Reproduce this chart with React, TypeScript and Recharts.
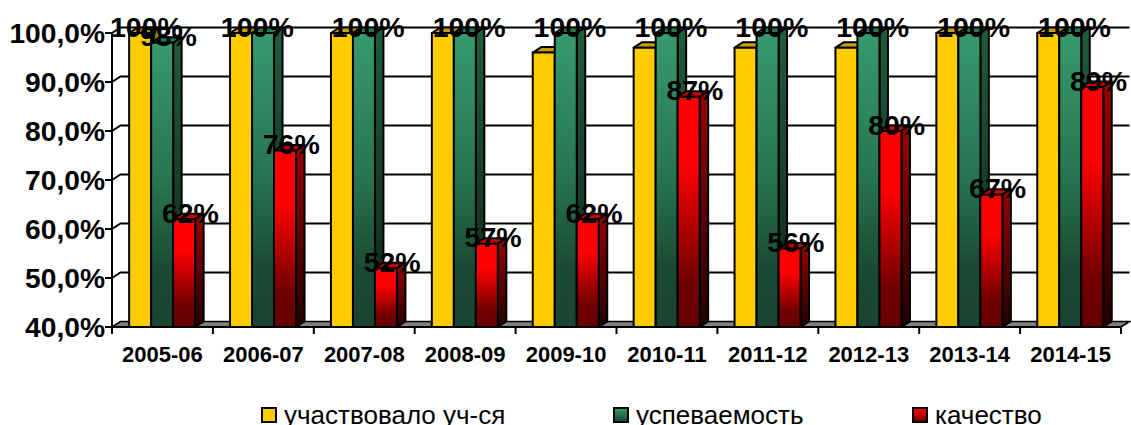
import { ComposedChart, Bar, XAxis, YAxis, CartesianGrid, Legend, LabelList } from 'recharts'

const years = ['2005-06', '2006-07', '2007-08', '2008-09', '2009-10', '2010-11', '2011-12', '2012-13', '2013-14', '2014-15']
const participated = [100, 100, 100, 100, 96, 97, 97, 97, 100, 100]
const progress = [98, 100, 100, 100, 100, 100, 100, 100, 100, 100]
const quality = [62, 76, 52, 57, 62, 87, 56, 80, 67, 89]
// only the first yellow bar carries a value label in the original
const participatedLabels = ['100%', '', '', '', '', '', '', '', '', '']
const yTicks = [40, 50, 60, 70, 80, 90, 100]

const chartData = years.map((year, i) => ({
  year,
  participated: participated[i],
  progress: progress[i],
  quality: quality[i],
  participatedLabel: participatedLabels[i],
}))

const FONT = '"Liberation Sans", Arial, sans-serif'
const DX = 8.5
const DY = 5.5
const BAND = 100.9

const legendItems = [
  { name: 'участвовало уч-ся', color: '#ffcc00', width: 352 },
  { name: 'успеваемость', color: 'linear-gradient(#339966, #1a4a33)', width: 299 },
  { name: 'качество', color: 'linear-gradient(#ff0000, #7a0000)', width: 200 },
]

function Bar3D(props: any) {
  const { x, y, width, height, front, top, side } = props
  const stroke = { stroke: '#000', strokeWidth: 2, strokeLinejoin: 'round' as const }
  return (
    <g>
      <path
        d={`M${x},${y} l${DX},${-DY} h${width} l${-DX},${DY} z`}
        fill={top}
        {...stroke}
      />
      <path
        d={`M${x + width},${y} l${DX},${-DY} v${height} l${-DX},${DY} z`}
        fill={side}
        {...stroke}
      />
      <rect x={x} y={y} width={width} height={height} fill={front} {...stroke} />
    </g>
  )
}

function GridLine(props: any) {
  const { x1, x2, y1, index } = props
  if (index === 0 || y1 > 320) {
    return (
      <path
        d={`M${x1},${y1} l${DX},${-DY} H${x2 + DX} l${-DX},${DY} z`}
        fill="#808080"
        stroke="#000"
        strokeWidth={1.5}
      />
    )
  }
  return (
    <path
      d={`M${x1},${y1} l${DX},${-DY} H${x2 + DX}`}
      fill="none"
      stroke="#000"
      strokeWidth={2}
    />
  )
}

function YearTick(props: any) {
  const { x, y, payload, index } = props
  return (
    <g>
      <line x1={x - BAND / 2} x2={x - BAND / 2} y1={y - 8} y2={y - 1} stroke="#000" strokeWidth={2} />
      {index === years.length - 1 && (
        <line x1={x + BAND / 2} x2={x + BAND / 2} y1={y - 8} y2={y - 1} stroke="#000" strokeWidth={2} />
      )}
      <text x={x} y={y + 27} textAnchor="middle" fontFamily={FONT} fontSize={22} fontWeight={700} fill="#000">
        {payload.value}
      </text>
    </g>
  )
}

function ValueLabel(props: any) {
  const { x, y, width, value, shift = 0 } = props
  if (!value) return null
  return (
    <text
      x={x + width / 2 + DX / 2 + shift}
      y={y - DY}
      dy="0.32em"
      textAnchor="middle"
      fontFamily={FONT}
      fontSize={28.5}
      fontWeight={700}
      fill="#000"
    >
      {value}
    </text>
  )
}

function LegendRow() {
  return (
    <div style={{ display: 'flex', fontFamily: FONT, fontSize: 26, color: '#000', lineHeight: '26px', whiteSpace: 'nowrap' }}>
      {legendItems.map((item) => (
        <div key={item.name} style={{ width: item.width, display: 'flex', alignItems: 'center' }}>
          <span
            style={{
              display: 'inline-block',
              width: 12,
              height: 12,
              background: item.color,
              border: '2px solid #000',
              marginRight: 7,
            }}
          />
          {item.name}
        </div>
      ))}
    </div>
  )
}

export default function App() {
  return (
    <div style={{ position: 'absolute', left: 0, top: 0, width: 1131, height: 425, overflow: 'hidden', background: '#fff' }}>
      <ComposedChart
        width={1131}
        height={425}
        data={chartData}
        barCategoryGap="17%"
        barGap={0}
        margin={{ top: 33, right: 10, left: 0, bottom: 0 }}
      >
        <defs>
          <linearGradient id="greenFront" x1="0" y1="0" x2="0" y2="1">
            <stop offset="0" stopColor="#379a6c" />
            <stop offset="0.5" stopColor="#27744f" />
            <stop offset="0.8" stopColor="#1a4a33" />
            <stop offset="1" stopColor="#1a4530" />
          </linearGradient>
          <linearGradient id="greenSide" x1="0" y1="0" x2="0" y2="1">
            <stop offset="0" stopColor="#1f5c3d" />
            <stop offset="1" stopColor="#0c2418" />
          </linearGradient>
          <linearGradient id="redFront" x1="0" y1="0" x2="0" y2="1">
            <stop offset="0" stopColor="#ff0000" />
            <stop offset="0.3" stopColor="#ff0000" />
            <stop offset="0.8" stopColor="#700000" />
            <stop offset="1" stopColor="#660000" />
          </linearGradient>
          <linearGradient id="redSide" x1="0" y1="0" x2="0" y2="1">
            <stop offset="0" stopColor="#990000" />
            <stop offset="1" stopColor="#220000" />
          </linearGradient>
        </defs>
        <CartesianGrid vertical={false} horizontal={(p: any) => <GridLine {...p} />} />
        <XAxis
          dataKey="year"
          interval={0}
          height={72}
          tickLine={false}
          axisLine={{ stroke: '#000', strokeWidth: 2 }}
          tick={(p: any) => <YearTick {...p} />}
        />
        <YAxis
          width={112}
          domain={[40, 100]}
          ticks={yTicks}
          tickFormatter={(v: number) => `${v},0%`}
          tickSize={7}
          tickMargin={0}
          tickLine={{ stroke: '#000', strokeWidth: 2 }}
          axisLine={{ stroke: '#000', strokeWidth: 2 }}
          tick={{ fontSize: 28.2, fontWeight: 700, fill: '#000', fontFamily: FONT }}
        />
        <Legend
          content={() => <LegendRow />}
          wrapperStyle={{ left: 261, top: 402, width: 870, height: 26 }}
        />
        <Bar
          dataKey="participated"
          name="участвовало уч-ся"
          isAnimationActive={false}
          shape={(p: any) => <Bar3D {...p} front="#ffcc00" top="#cc9f00" side="#997700" />}
        >
          <LabelList dataKey="participatedLabel" content={(p: any) => <ValueLabel {...p} shift={2} />} />
        </Bar>
        <Bar
          dataKey="progress"
          name="успеваемость"
          isAnimationActive={false}
          shape={(p: any) => <Bar3D {...p} front="url(#greenFront)" top="#287a52" side="url(#greenSide)" />}
        >
          <LabelList
            dataKey="progress"
            content={(p: any) => (
              <ValueLabel {...p} value={`${p.value}%`} shift={p.index === 0 ? 2 : p.index === 1 ? -10 : 0} />
            )}
          />
        </Bar>
        <Bar
          dataKey="quality"
          name="качество"
          isAnimationActive={false}
          shape={(p: any) => <Bar3D {...p} front="url(#redFront)" top="#cc0000" side="url(#redSide)" />}
        >
          <LabelList dataKey="quality" content={(p: any) => <ValueLabel {...p} value={`${p.value}%`} shift={2} />} />
        </Bar>
      </ComposedChart>
    </div>
  )
}
